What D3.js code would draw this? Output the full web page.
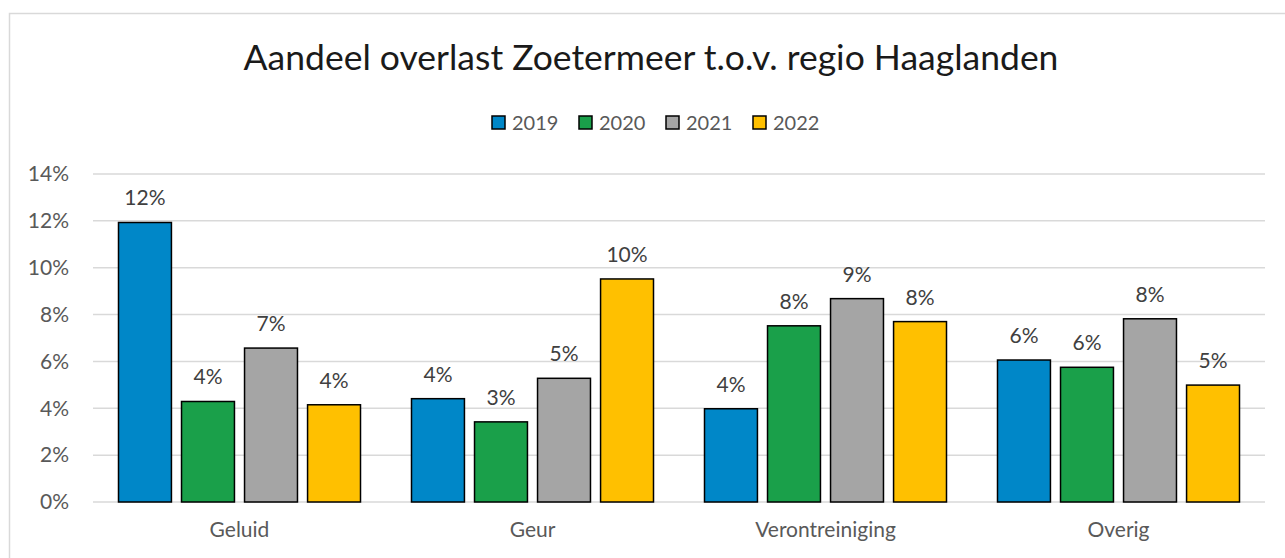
<!DOCTYPE html>
<html>
<head>
<meta charset="utf-8">
<script src="https://cdn.jsdelivr.net/npm/d3@7"></script>
<style>
  body { margin: 0; background: #fff; }
  svg { font-family: Lato, "Noto Sans", sans-serif; }
</style>
</head>
<body>
<svg id="barchart"></svg>
<script>
// data
var categories = ["Geluid", "Geur", "Verontreiniging", "Overig"]
var years = ["2019", "2020", "2021", "2022"]
var values2019 = [11.93, 4.41, 3.98, 6.06]
var values2020 = [4.29, 3.42, 7.52, 5.75]
var values2021 = [6.57, 5.28, 8.68, 7.82]
var values2022 = [4.15, 9.52, 7.70, 4.99]
var yTicks = [0, 2, 4, 6, 8, 10, 12, 14]
var colors = ["#0087C8", "#1AA04A", "#A5A5A5", "#FFC000"]

var series = [values2019, values2020, values2021, values2022]

var dimensions = {
    width: 1285,
    height: 558,
    margin: {
        top: 174,
        bottom: 56,
        left: 93,
        right: 20
    }
}

var svg = d3.select("#barchart")
            .attr("width", dimensions.width)
            .attr("height", dimensions.height)

// chart frame (only top/left edges visible in the reference)
svg.append("rect")
    .attr("x", 9.5)
    .attr("y", 13.5)
    .attr("width", 1300)
    .attr("height", 600)
    .attr("fill", "white")
    .attr("stroke", "#D9D9D9")
    .attr("stroke-width", 1.5)

var xScale = d3.scaleBand()
                .domain(categories)
                .range([dimensions.margin.left, dimensions.width - dimensions.margin.right])

var innerScale = d3.scaleBand()
                .domain(years)
                .range([25.5, xScale.bandwidth() - 25.5])
                .paddingInner(0.16)

var yScale = d3.scaleLinear()
                .domain([0, 14])
                .range([dimensions.height - dimensions.margin.bottom, dimensions.margin.top])

// gridlines
svg.append("g")
    .selectAll("line")
    .data(yTicks)
    .join("line")
    .attr("x1", dimensions.margin.left)
    .attr("x2", dimensions.width - dimensions.margin.right)
    .attr("y1", d => yScale(d))
    .attr("y2", d => yScale(d))
    .attr("stroke", "#D9D9D9")
    .attr("stroke-width", 1.5)

// y axis labels
var yAxisGen = d3.axisLeft(yScale).tickValues(yTicks).tickSize(0).tickPadding(24)
                .tickFormat(d => d + "%")
var yAxis = svg.append("g")
                .attr("transform", `translate(${dimensions.margin.left},0)`)
                .call(yAxisGen)
yAxis.select(".domain").remove()
yAxis.selectAll("text")
    .attr("fill", "#595959")
    .style("font-size", "21px")
    .style("font-family", "Lato, 'Noto Sans', sans-serif")

// bars
var groups = svg.append("g")
    .selectAll("g")
    .data(categories)
    .join("g")
    .attr("transform", d => `translate(${xScale(d)},0)`)

groups.selectAll("rect")
    .data((c, i) => years.map((y, j) => ({ year: y, value: series[j][i], color: colors[j] })))
    .join("rect")
    .attr("x", d => innerScale(d.year))
    .attr("y", d => yScale(d.value))
    .attr("width", innerScale.bandwidth())
    .attr("height", d => yScale(0) - yScale(d.value))
    .attr("fill", d => d.color)
    .attr("stroke", "black")
    .attr("stroke-width", 1.5)

groups.selectAll("text.label")
    .data((c, i) => years.map((y, j) => ({ year: y, value: series[j][i] })))
    .join("text")
    .attr("class", "label")
    .attr("x", d => innerScale(d.year) + innerScale.bandwidth() / 2)
    .attr("y", d => yScale(d.value) - 17)
    .attr("text-anchor", "middle")
    .attr("fill", "#404040")
    .style("font-size", "21px")
    .text(d => Math.round(d.value) + "%")

// x axis labels
var xAxisGen = d3.axisBottom(xScale).tickSize(0).tickPadding(20)
var xAxis = svg.append("g")
                .attr("transform", `translate(0,${yScale(0)})`)
                .call(xAxisGen)
xAxis.select(".domain").remove()
xAxis.selectAll("text")
    .attr("fill", "#595959")
    .style("font-size", "21px")
    .style("font-family", "Lato, 'Noto Sans', sans-serif")

// title
svg.append("text")
    .attr("x", 651)
    .attr("y", 70)
    .attr("text-anchor", "middle")
    .attr("fill", "#1a1a1a")
    .style("font-size", "35.5px")
    .text("Aandeel overlast Zoetermeer t.o.v. regio Haaglanden")

// legend
var legendX = [492, 579, 666, 753]
var legend = svg.append("g")
    .selectAll("g")
    .data(years)
    .join("g")
    .attr("transform", (d, i) => `translate(${legendX[i]},116)`)

legend.append("rect")
    .attr("width", 13)
    .attr("height", 13)
    .attr("fill", (d, i) => colors[i])
    .attr("stroke", "black")
    .attr("stroke-width", 1.5)

legend.append("text")
    .attr("x", 20)
    .attr("y", 13.5)
    .attr("fill", "#595959")
    .style("font-size", "20px")
    .text(d => d)
</script>
</body>
</html>
